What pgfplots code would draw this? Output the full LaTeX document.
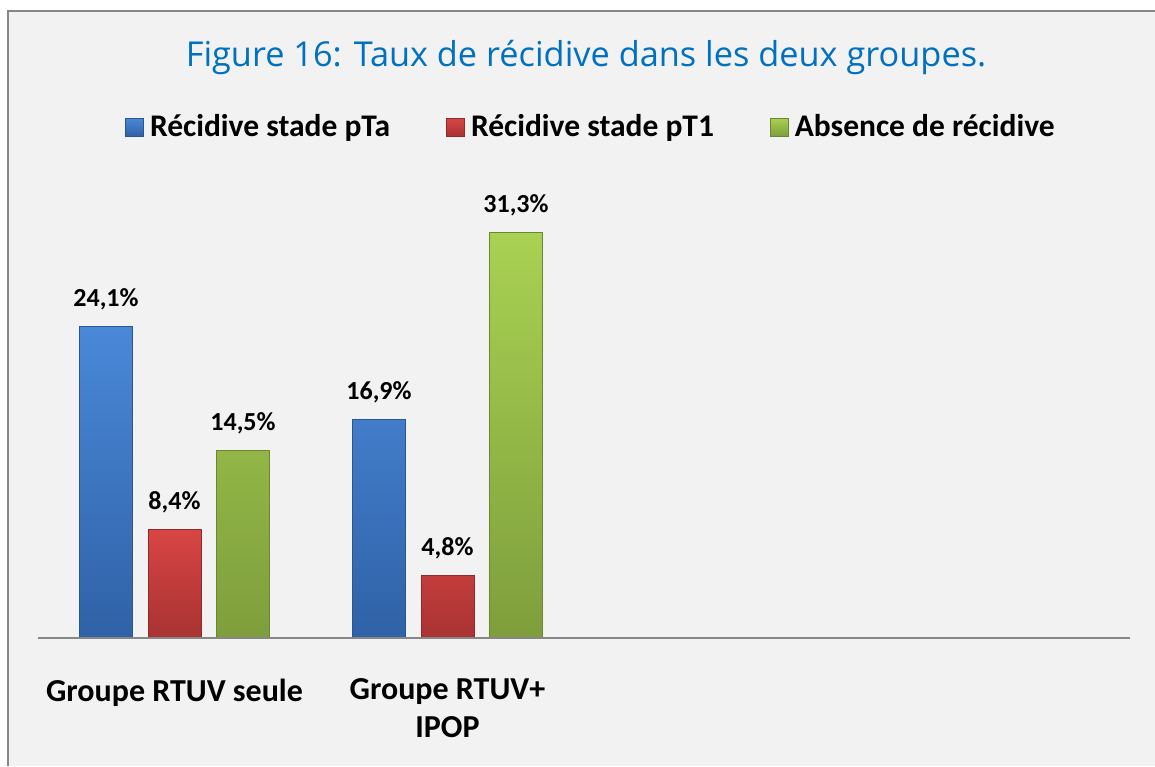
\documentclass[border=0pt]{standalone}
\usepackage{fontspec}
\setmainfont{Carlito}
\newfontfamily\titlefont{Open Sans}
\usepackage{pgfplots}
\pgfplotsset{compat=1.18}
\definecolor{bgc}{HTML}{F2F2F2}
\definecolor{framec}{HTML}{878787}
\definecolor{titlec}{HTML}{0070C0}
\definecolor{bT}{HTML}{4A88D8}
\definecolor{bB}{HTML}{2F62A6}
\definecolor{bE}{HTML}{2A5590}
\definecolor{rT}{HTML}{D94545}
\definecolor{rB}{HTML}{A83232}
\definecolor{rE}{HTML}{8E2A2A}
\definecolor{gT}{HTML}{A9D152}
\definecolor{gB}{HTML}{7E9E3C}
\definecolor{gE}{HTML}{6A8632}
\pgfplotsset{sqlegend/.style={legend image code/.code={\draw[##1] (0pt,-4.5pt) rectangle (9pt,4.5pt);}}}
\begin{document}
\begin{tikzpicture}[x=1pt,y=1pt]
\useasboundingbox (0,0) rectangle (577.5,383);
\fill[white] (0,0) rectangle (577.5,383);
\fill[bgc] (4,0) rectangle (577.5,377.5);
\draw[framec, line width=1.3pt] (4,0) -- (4,377.5) -- (577.5,377.5);
\node[anchor=base, font=\titlefont\fontsize{17.15}{20}\selectfont, text=titlec, inner sep=0pt] at (293,349.65) {Figure 16: Taux de récidive dans les deux groupes.};
\begin{axis}[
  at={(19pt,64pt)}, anchor=south west, scale only axis, width=546pt, height=226.5pt,
  xmin=-0.5, xmax=3.5, ymin=0, ymax=35,
  ybar=7.75pt, bar width=26.5pt,
  axis line style={draw=none},
  xtick={0,1}, xticklabels={Groupe RTUV seule, {Groupe RTUV+\\IPOP}},
  ytick=\empty, major tick length=0pt,
  xticklabel style={font=\bfseries\fontsize{16}{19}\selectfont, align=center, anchor=north, yshift=-20.3pt, inner sep=0pt},
  clip=false,
  nodes near coords={\pgfmathprintnumber[fixed,fixed zerofill,precision=1,use comma,assume math mode=true]{\pgfplotspointmeta}\%},
  every node near coord/.append style={font=\bfseries\fontsize{13}{15}\selectfont, anchor=base, yshift=10pt, inner sep=0pt, text=black},
  legend columns=3,
  legend style={at={(0.5055,1.128)}, anchor=center, draw=none, fill=none,
    font=\bfseries\fontsize{15.75}{18}\selectfont,
    /tikz/every odd column/.append style={column sep=3pt},
    /tikz/every even column/.append style={column sep=28pt},
    nodes={inner sep=0pt}},
]
\addplot[top color=bT, bottom color=bB, draw=bE, line width=0.4pt, sqlegend]
  coordinates {(0,24.1) (1,16.9)};
\addplot[top color=rT, bottom color=rB, draw=rE, line width=0.4pt, sqlegend]
  coordinates {(0,8.4) (1,4.8)};
\addplot[top color=gT, bottom color=gB, draw=gE, line width=0.4pt, sqlegend]
  coordinates {(0,14.5) (1,31.3)};
\legend{Récidive stade pTa, Récidive stade pT1, Absence de récidive}
\draw[draw=framec, line width=1pt] (rel axis cs:0,0) -- (rel axis cs:1,0);
\end{axis}
\end{tikzpicture}
\end{document}
